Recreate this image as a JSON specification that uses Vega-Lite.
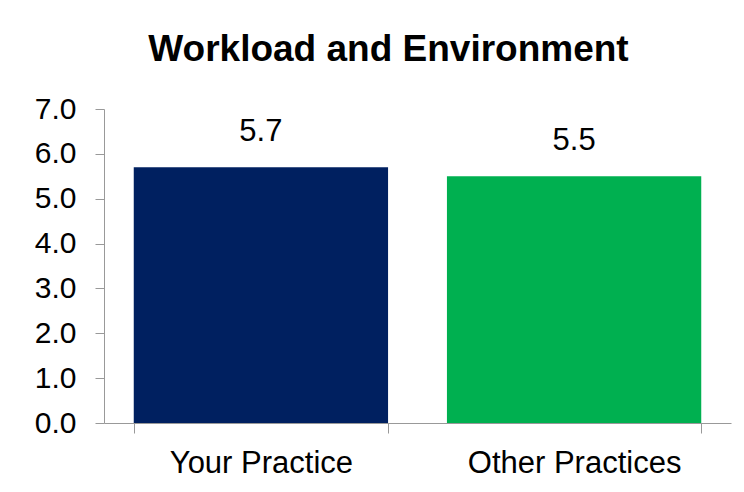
{
  "$schema": "https://vega.github.io/schema/vega-lite/v6.json",
  "width": 627,
  "height": 314,
  "autosize": {"type": "none"},
  "padding": {"left": 104, "top": 109, "right": 13, "bottom": 69},
  "background": "white",
  "title": {
    "text": "Workload and Environment",
    "font": "Liberation Sans",
    "fontSize": 37,
    "fontWeight": "bold",
    "color": "black",
    "anchor": "middle",
    "dx": -29,
    "offset": 25
  },
  "data": {
    "values": [
      {"practice": "Your Practice", "score": 5.7},
      {"practice": "Other Practices", "score": 5.5}
    ]
  },
  "encoding": {
    "x": {
      "field": "practice",
      "type": "nominal",
      "sort": null,
      "scale": {"paddingInner": 0.188, "paddingOuter": 0.095},
      "axis": {
        "title": null,
        "labelAngle": 0,
        "labelLimit": 0,
        "labelFont": "Liberation Sans",
        "labelFontSize": 31,
        "labelColor": "black",
        "tickBand": "extent",
        "tickSize": 10,
        "labelPadding": 15,
        "domainColor": "#999999",
        "tickColor": "#999999"
      }
    },
    "y": {
      "field": "score",
      "type": "quantitative",
      "scale": {"domain": [0, 7]},
      "axis": {
        "title": null,
        "values": [0, 1, 2, 3, 4, 5, 6, 7],
        "format": ".1f",
        "labelFont": "Liberation Sans",
        "labelFontSize": 30,
        "labelColor": "black",
        "tickSize": 9,
        "labelPadding": 19,
        "grid": false,
        "domainColor": "#999999",
        "tickColor": "#999999"
      }
    }
  },
  "layer": [
    {
      "mark": {"type": "bar"},
      "encoding": {
        "color": {
          "field": "practice",
          "type": "nominal",
          "scale": {"domain": ["Your Practice", "Other Practices"], "range": ["#002060", "#00B050"]},
          "legend": null
        }
      }
    },
    {
      "mark": {"type": "text", "baseline": "bottom", "dy": -19, "fontSize": 31, "font": "Liberation Sans", "color": "black"},
      "encoding": {
        "text": {"field": "score", "type": "quantitative", "format": ".1f"}
      }
    }
  ],
  "config": {"view": {"stroke": null}}
}
